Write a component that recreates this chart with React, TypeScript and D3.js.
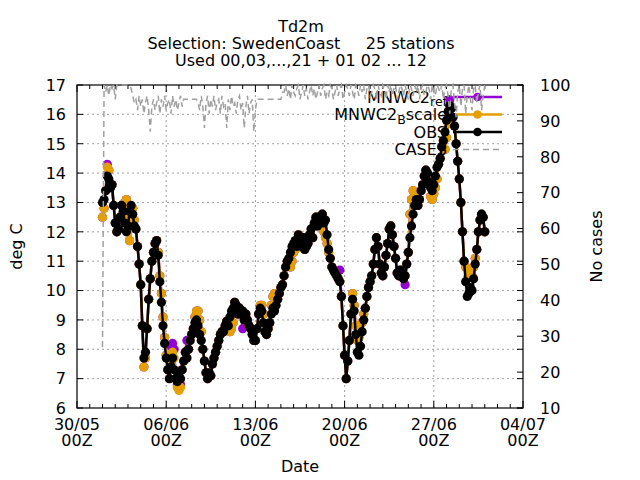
import { line, range, scaleLinear } from "d3";

// hourly-ish verification series, one value every 3 h from 01/06 00Z
const START_HOUR = 48; // hours after 30/05 00Z
const STEP_HOURS = 3;

const OBS = [
  13.0,
  13.1, 13.4, 13.9, 13.8, 13.5, 13.6, 12.9, 12.3,
  12.0, 12.1, 12.5, 12.9, 12.7, 12.3, 12.0, 12.2,
  12.7, 12.9, 12.6, 12.2, 12.1, 11.5, 10.9, 10.2,
  8.8, 7.7, 7.9, 8.7, 9.7, 10.4, 11.0, 11.3,
  11.6, 11.7, 11.2, 10.3, 9.6, 8.8, 8.2, 7.7,
  7.3, 7.0, 7.4, 7.7, 7.3, 7.0, 6.9, 7.1,
  7.0, 7.3, 7.6, 7.9, 7.7, 8.0, 8.3, 8.5,
  8.7, 8.9, 9.0, 8.8, 8.5, 8.3, 8.0, 7.6,
  7.2, 7.0, 7.2, 7.1, 7.5, 7.7, 7.9, 8.1,
  8.3, 8.5, 8.6, 8.6, 8.8, 8.95, 8.8, 9.1,
  9.3, 9.4, 9.6, 9.5, 9.2, 9.4, 9.2, 9.3,
  9.0, 9.2, 9.0, 8.8, 8.7, 8.5, 8.3, 8.3,
  8.7, 9.2, 9.4, 9.3, 8.9, 8.6, 8.5, 8.7,
  8.9, 9.2, 9.4, 9.3, 9.5, 9.7, 9.9, 10.1,
  10.2, 10.5, 10.8, 11.0, 11.1, 11.3, 11.5, 11.6,
  11.7, 11.5, 11.9, 11.8, 11.5, 11.8, 11.4, 11.5,
  11.6, 11.9, 12.1, 11.8, 12.3, 12.5, 12.2, 12.5,
  12.5, 12.6, 12.3, 12.4, 11.9, 11.4, 11.1, 10.8,
  10.7, 10.6, 10.5, 10.4, 10.3, 9.8, 8.8, 7.8,
  7.0, 7.6, 8.3, 9.2, 9.7, 9.3, 8.5, 7.9,
  7.8, 8.1, 8.6, 9.0, 9.4, 9.8, 10.1, 10.3,
  10.5, 10.9, 11.4, 11.8, 11.5, 10.9, 10.6, 10.5,
  10.8, 11.2, 11.6, 12.1, 12.2, 11.9, 11.5, 11.1,
  10.6, 10.5, 10.7, 10.6, 10.4, 10.5, 10.9, 11.3,
  11.8, 12.2, 12.6, 12.9, 13.1, 12.9, 13.1, 13.4,
  13.6, 13.9, 14.1, 14.0, 13.7, 13.5, 13.4, 13.6,
  13.9, 14.2, 14.3, 14.5, 14.9, 15.1, 15.4, 15.8,
  16.1, 16.3, 16.2, 15.9, 15.6, 15.0, 14.4, 13.8,
  13.0, 12.0, 11.0, 10.3, 9.8, 9.9, 10.1, 10.0,
  10.4, 10.9, 11.4, 12.0, 12.4, 12.6, 12.5, 12.0,
];

const MNWC2_BSCALE = [
  12.5,
  12.8, 13.4, 14.2, 14.1, 13.5, 13.6, 12.9, 12.3,
  12.0, 12.1, 12.5, 12.9, 12.6, 13.0, 13.1, 12.4,
  11.7, 12.2, 12.8, 12.4, 12.1, 11.5, 10.9, 10.2,
  8.8, 7.4, 7.7, 8.7, 9.7, 10.4, 11.0, 11.3,
  11.6, 11.7, 11.3, 10.5, 9.9, 9.1, 8.4, 7.8,
  7.3, 7.0, 7.6, 7.9, 7.7, 7.0, 6.7, 6.6,
  6.7, 7.3, 7.6, 7.9, 7.7, 8.0, 8.3, 8.5,
  8.7, 9.1, 9.3, 9.3, 9.0, 8.6, 8.0, 7.6,
  7.2, 7.0, 7.2, 7.1, 7.5, 7.7, 7.9, 8.1,
  8.3, 8.5, 8.6, 8.6, 8.8, 8.95, 8.8, 8.6,
  8.7, 8.9, 9.6, 9.5, 9.2, 9.4, 9.2, 9.3,
  9.0, 9.2, 9.0, 8.8, 8.7, 8.5, 8.3, 8.3,
  8.7, 9.2, 9.5, 9.5, 9.2, 8.6, 8.5, 8.7,
  8.9, 9.5, 9.8, 9.9, 9.7, 9.7, 9.9, 10.1,
  10.2, 10.5, 10.8, 11.0, 10.9, 10.8, 11.0, 11.3,
  11.4, 11.5, 11.9, 11.8, 11.5, 11.8, 11.4, 11.5,
  11.6, 11.9, 12.1, 11.8, 12.3, 12.5, 12.2, 12.5,
  12.5, 12.6, 12.0, 11.8, 11.6, 11.3, 11.1, 10.8,
  10.7, 10.6, 10.5, 10.4, 10.3, 9.8, 8.8, 7.8,
  7.0, 7.6, 8.3, 9.2, 9.9, 9.5, 8.8, 8.3,
  8.4, 8.6, 8.9, 9.2, 9.4, 9.8, 10.1, 10.3,
  10.5, 10.9, 11.4, 11.8, 11.5, 10.9, 10.6, 10.5,
  10.8, 11.2, 11.6, 12.1, 12.2, 11.9, 11.5, 11.1,
  10.6, 10.5, 10.7, 10.6, 10.4, 10.5, 10.9, 11.3,
  12.6, 13.1, 13.4, 13.3, 13.1, 12.9, 13.1, 13.4,
  13.6, 13.9, 14.1, 14.0, 13.7, 13.2, 13.1, 13.3,
  13.5, 13.8, 14.3, 14.5, 14.9, 15.1, 14.8, 15.2,
  15.7, 16.3, 16.2, 15.9, 15.6, 15.0, 14.4, 13.8,
  13.0, 12.0, 11.0, 10.8, 10.4, 10.5, 10.6, 10.5,
  10.8, 11.1, 11.4, 12.0, 12.4, 12.6, 12.5, 12.0,
];

const MNWC2_REF = [
  12.5,
  12.8, 13.4, 14.3, 14.1, 13.5, 13.6, 12.9, 12.3,
  12.0, 12.1, 12.5, 12.9, 12.6, 13.0, 13.1, 12.4,
  11.7, 12.2, 12.8, 12.4, 12.1, 11.5, 10.9, 10.2,
  8.8, 7.4, 7.7, 8.7, 9.7, 10.4, 11.0, 11.3,
  11.6, 11.7, 11.3, 10.5, 9.9, 9.1, 8.4, 7.8,
  7.3, 7.8, 8.1, 8.2, 8.0, 7.0, 6.8, 6.75,
  6.8, 7.3, 7.6, 7.9, 8.3, 8.0, 8.3, 8.5,
  8.7, 9.1, 9.3, 9.3, 9.0, 8.6, 8.0, 7.6,
  7.2, 7.0, 7.2, 7.1, 7.5, 7.7, 7.9, 8.1,
  8.3, 8.5, 8.6, 8.6, 8.8, 8.95, 8.8, 8.6,
  8.7, 8.9, 9.6, 9.5, 9.2, 9.4, 9.2, 8.7,
  9.0, 9.2, 9.0, 8.8, 8.7, 8.5, 8.3, 8.3,
  8.7, 9.2, 9.5, 9.5, 9.2, 8.6, 8.5, 8.7,
  8.9, 9.5, 9.8, 9.9, 9.7, 9.7, 9.9, 10.1,
  10.2, 10.5, 10.8, 11.0, 10.9, 10.8, 11.0, 11.3,
  11.4, 11.5, 11.9, 11.8, 11.5, 11.8, 11.4, 11.5,
  11.6, 11.9, 12.1, 11.8, 12.3, 12.5, 12.2, 12.5,
  12.5, 12.6, 12.0, 11.8, 11.6, 11.3, 11.1, 10.8,
  10.7, 10.6, 10.5, 10.4, 10.7, 9.8, 8.8, 7.8,
  7.0, 7.6, 8.3, 9.2, 9.9, 9.5, 8.8, 8.3,
  8.4, 8.6, 8.9, 9.2, 9.4, 9.8, 10.1, 10.3,
  10.5, 10.9, 11.4, 11.8, 11.5, 10.9, 10.6, 10.5,
  10.8, 11.2, 11.6, 12.1, 12.2, 11.9, 11.5, 11.1,
  10.6, 10.5, 10.7, 10.6, 10.4, 10.2, 10.9, 11.3,
  12.6, 13.1, 13.4, 13.3, 13.1, 12.9, 13.1, 13.4,
  13.6, 13.9, 14.1, 14.0, 13.7, 13.2, 13.1, 13.3,
  13.5, 13.8, 14.3, 14.5, 14.9, 15.1, 14.8, 15.2,
  15.7, 16.5, 16.2, 15.9, 15.6, 15.0, 14.4, 13.8,
  13.0, 12.0, 11.0, 10.8, 10.4, 10.5, 10.6, 10.5,
  10.8, 11.1, 11.4, 12.0, 12.4, 12.6, 12.5, 12.0,
];

const CASES = [
  27,
  100, 98, 100, 97, 100, 99, 100, 96,
  100, 100, 100, 100, 100, 100, 100, 100,
  100, 99, 97, 95, 96, 93, 97, 94,
  96, 92, 95, 97, 93, 87, 94, 96,
  93, 95, 97, 92, 96, 94, 97, 93,
  95, 96, 92, 97, 94, 96, 93, 95,
  97, 94, 96, 96, 96, 96, 96, 96,
  96, 96, 96, 95, 93, 97, 94, 88,
  95, 97, 92, 96, 94, 97, 93, 95,
  96, 92, 97, 94, 95, 88, 96, 93,
  97, 94, 95, 92, 96, 97, 93, 95,
  88, 94, 97, 92, 95, 96, 87, 93,
  96, 96, 96, 96, 96, 96, 96, 96,
  96, 96, 96, 96, 96, 96, 96, 96,
  98, 98, 100, 97, 99, 96, 100, 98,
  97, 99, 100, 96, 98, 100, 97, 99,
  96, 98, 100, 97, 99, 96, 98, 100,
  97, 99, 100, 96, 98, 97, 100, 99,
  96, 98, 100, 97, 99, 100, 96, 98,
  100, 99, 97, 100, 98, 96, 100, 99,
  97, 100, 98, 100, 96, 99, 100, 97,
  98, 100, 99, 96, 100, 98, 97, 100,
  99, 96, 100, 98, 100, 97, 99, 100,
  96, 98, 100, 99, 97, 100, 98, 96,
  100, 99, 97, 100, 98, 100, 96, 99,
  100, 97, 98, 100, 99, 96, 100, 98,
  97, 100, 99, 98, 100, 96, 99, 100,
  97, 92, 99, 100, 95, 91, 98, 100,
  94, 99, 100, 92, 97, 100, 96, 93,
  99, 100, 95, 98, 100, 93, 97, 100,
];

const TITLE_LINES = ["Td2m", "Selection: SwedenCoast     25 stations", "Used 00,03,...,21 + 01 02 ... 12"];
const X_MAJOR_DAYS = [0, 7, 14, 21, 28, 35];
const X_MAJOR_DATES = ["30/05", "06/06", "13/06", "20/06", "27/06", "04/07"];
const X_MAJOR_HOURS = ["00Z", "00Z", "00Z", "00Z", "00Z", "00Z"];
const Y_TICKS = [6, 7, 8, 9, 10, 11, 12, 13, 14, 15, 16, 17];
const Y2_TICKS = [10, 20, 30, 40, 50, 60, 70, 80, 90, 100];

const W = 640;
const H = 480;
const L = 77;
const R = 523;
const T = 85;
const B = 408;
const FONT = "'DejaVu Sans', sans-serif";
const FS = 16;

const PURPLE = "#9400d3";
const ORANGE = "#e69f00";
const GRID = "#a0a0a0";

const x = scaleLinear().domain([0, 35 * 24]).range([L, R]);
const y = scaleLinear().domain([6, 17]).range([B, T]);
const y2 = scaleLinear().domain([10, 100]).range([B, T]);
const hourAt = (i: number) => START_HOUR + i * STEP_HOURS;

const lineY = line<number>()
  .x((_d, i) => x(hourAt(i)))
  .y((d) => y(d));
const lineY2 = line<number>()
  .x((_d, i) => x(hourAt(i)))
  .y((d) => y2(d));

const KEY_TEXT_X = 447;
const KEY_X0 = 453;
const KEY_X1 = 502;
const KEY_ROWS = [97, 114.5, 132, 149.5];

function KeySample({ row, color, dashed }: { row: number; color: string; dashed?: boolean }) {
  const cy = KEY_ROWS[row];
  return (
    <g>
      <line
        x1={KEY_X0}
        x2={KEY_X1}
        y1={cy}
        y2={cy}
        stroke={color}
        strokeWidth={dashed ? 1.5 : 2.5}
        strokeDasharray={dashed ? "6,4" : undefined}
      />
      {!dashed && <circle cx={(KEY_X0 + KEY_X1) / 2} cy={cy} r={4.3} fill={color} />}
    </g>
  );
}

function Series({ values, color }: { values: number[]; color: string }) {
  return (
    <g>
      <path d={lineY(values) || ""} fill="none" stroke={color} strokeWidth={2.5} strokeLinejoin="round" />
      {values.map((v, i) => (
        <circle key={i} cx={x(hourAt(i))} cy={y(v)} r={4.6} fill={color} />
      ))}
    </g>
  );
}

export default function App() {
  const minorDays = range(0, 36);
  return (
    <svg
      width={W}
      height={H}
      viewBox={`0 0 ${W} ${H}`}
      style={{ position: "absolute", left: 0, top: 0, background: "#fff" }}
      fontFamily={FONT}
      fontSize={FS}
    >
      <rect width={W} height={H} fill="#fff" />

      {/* grid */}
      <g stroke={GRID} strokeWidth={1} strokeDasharray="2,3">
        {Y_TICKS.filter((t) => t > 6 && t < 17).map((t) => (
          <line key={t} x1={L} x2={R} y1={y(t)} y2={y(t)} />
        ))}
        {X_MAJOR_DAYS.filter((d) => d > 0 && d < 35).map((d) => (
          <line key={d} x1={x(d * 24)} x2={x(d * 24)} y1={T} y2={B} />
        ))}
      </g>

      {/* ticks */}
      <g stroke="#000" strokeWidth={1}>
        {Y_TICKS.map((t) => (
          <g key={t}>
            <line x1={L} x2={L + 6} y1={y(t)} y2={y(t)} />
            <line x1={R - 6} x2={R} y1={y(t)} y2={y(t)} />
          </g>
        ))}
        {Y2_TICKS.map((t) => (
          <line key={t} x1={R - 6} x2={R} y1={y2(t)} y2={y2(t)} />
        ))}
        {minorDays.map((d) => {
          const len = X_MAJOR_DAYS.includes(d) ? 7 : 4;
          return (
            <g key={d}>
              <line x1={x(d * 24)} x2={x(d * 24)} y1={B} y2={B - len} />
              <line x1={x(d * 24)} x2={x(d * 24)} y1={T} y2={T + len} />
            </g>
          );
        })}
      </g>
      <rect x={L} y={T} width={R - L} height={B - T} fill="none" stroke="#000" strokeWidth={1.2} />

      {/* tick labels */}
      {Y_TICKS.map((t) => (
        <text key={t} x={66} y={y(t) + 5.8} textAnchor="end">
          {t}
        </text>
      ))}
      {Y2_TICKS.map((t) => (
        <text key={t} x={540} y={y2(t) + 5.8} textAnchor="start">
          {t}
        </text>
      ))}
      {X_MAJOR_DAYS.map((d, i) => (
        <g key={d}>
          <text x={x(d * 24)} y={430} textAnchor="middle">
            {X_MAJOR_DATES[i]}
          </text>
          <text x={x(d * 24)} y={446} textAnchor="middle">
            {X_MAJOR_HOURS[i]}
          </text>
        </g>
      ))}

      {/* axis titles */}
      <text x={300} y={471.5} textAnchor="middle">
        Date
      </text>
      <text transform={`translate(22,${(T + B) / 2}) rotate(-90)`} textAnchor="middle">
        deg C
      </text>
      <text transform={`translate(602,${(T + B) / 2}) rotate(-90)`} textAnchor="middle">
        No cases
      </text>

      {/* title */}
      {TITLE_LINES.map((s, i) => (
        <text key={i} x={301} y={32 + i * 17} textAnchor="middle" style={{ whiteSpace: "pre" }}>
          {s}
        </text>
      ))}

      {/* series, each with its key entry drawn just before it */}
      <text x={KEY_TEXT_X} y={KEY_ROWS[0] + 5.8} textAnchor="end">
        MNWC2
        <tspan fontSize={12.5} dy={3.5}>
          ref
        </tspan>
      </text>
      <KeySample row={0} color={PURPLE} />
      <Series values={MNWC2_REF} color={PURPLE} />

      <text x={KEY_TEXT_X} y={KEY_ROWS[1] + 5.8} textAnchor="end">
        MNWC2
        <tspan fontSize={12.5} dy={3.5}>
          B
        </tspan>
        <tspan dy={-3.5}>scale</tspan>
      </text>
      <KeySample row={1} color={ORANGE} />
      <Series values={MNWC2_BSCALE} color={ORANGE} />

      <text x={KEY_TEXT_X} y={KEY_ROWS[2] + 5.8} textAnchor="end">
        OBS
      </text>
      <KeySample row={2} color="#000" />
      <Series values={OBS} color="#000" />

      <text x={KEY_TEXT_X} y={KEY_ROWS[3] + 5.8} textAnchor="end">
        CASES
      </text>
      <KeySample row={3} color={GRID} dashed />
      <path d={lineY2(CASES) || ""} fill="none" stroke={GRID} strokeWidth={1.5} strokeDasharray="6,4" />
    </svg>
  );
}
